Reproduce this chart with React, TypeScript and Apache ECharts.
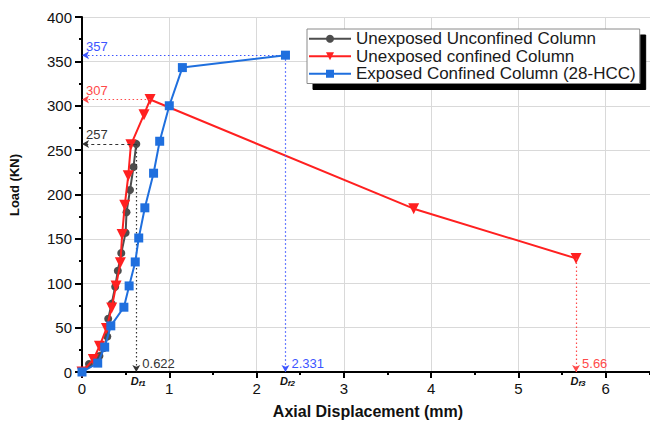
import React, { useEffect, useRef } from 'react';
import * as echarts from 'echarts';

// Load–displacement curves: [axial displacement (mm), load (kN)]
const unexposedUnconfined: [number, number][] = [
  [0, 0], [0.08, 9], [0.2, 18], [0.25, 27], [0.29, 40], [0.3, 60], [0.34, 77],
  [0.38, 96], [0.41, 114], [0.45, 134], [0.5, 157], [0.51, 180], [0.55, 205],
  [0.59, 231], [0.622, 257],
];
const unexposedConfined: [number, number][] = [
  [0, 0], [0.13, 14], [0.2, 29], [0.28, 49], [0.34, 72], [0.39, 97], [0.44, 123],
  [0.46, 155], [0.49, 188], [0.53, 221], [0.56, 256], [0.71, 290], [0.78, 307],
  [3.8, 184], [5.66, 128],
];
const exposedConfined: [number, number][] = [
  [0, 0], [0.18, 10], [0.26, 28], [0.33, 52], [0.48, 73], [0.54, 97], [0.61, 124],
  [0.65, 151], [0.72, 185], [0.82, 224], [0.89, 260], [1.0, 300], [1.15, 343],
  [2.331, 357],
];

const seriesNames = [
  'Unexposed Unconfined Column',
  'Unexposed confined Column',
  'Exposed Confined Column (28-HCC)',
];

const FONT = '"Liberation Sans", Arial, Helvetica, sans-serif';

// The plot runs on past the right edge of the visible frame
const FRAME_W = 650;
const CANVAS_W = 696;
const CANVAS_H = 424;
const LAST_X_LABEL = 6;

export default function App() {
  const ref = useRef<HTMLDivElement>(null);

  useEffect(() => {
    document.body.style.margin = '0';
    const chart = echarts.init(ref.current!, null, { renderer: 'svg' });

    const defs = [
      { data: unexposedUnconfined, color: '#4d4d4d', note: '#333333', symbol: 'circle', size: 8, rotate: 0, hType: [3, 3] },
      { data: unexposedConfined, color: '#ff2020', note: '#ff4a4a', symbol: 'triangle', size: 11, rotate: 180, hType: [1.5, 2.5] },
      { data: exposedConfined, color: '#1f6fde', note: '#3d55ff', symbol: 'rect', size: 9, rotate: 0, hType: [1.5, 2.5] },
    ];

    const peaks = defs.map((d) => d.data.reduce((a, b) => (b[1] > a[1] ? b : a)));
    const ends = defs.map((d) => d.data[d.data.length - 1]);
    // failure displacements are numbered Df1, Df2, Df3 from left to right
    const order = ends.map((e) => e[0]).slice().sort((a, b) => a - b);
    const tags = ends.map((e) => 'f' + (order.indexOf(e[0]) + 1));

    const series = defs.map((d, i) => ({
      type: 'line',
      name: seriesNames[i],
      data: d.data,
      symbol: d.symbol,
      symbolSize: d.size,
      symbolRotate: d.rotate,
      lineStyle: { color: d.color, width: 2 },
      itemStyle: { color: d.color },
      z: 3 + i,
      markLine: {
        silent: true,
        animation: false,
        symbol: ['none', 'arrow'],
        symbolSize: [6, 7],
        label: { show: false },
        emphasis: { disabled: true },
        data: [
          [
            { coord: peaks[i], lineStyle: { type: d.hType, color: d.note, width: 1.2 } },
            { coord: [0, peaks[i][1]] },
          ],
          [
            { coord: ends[i], lineStyle: { type: [1.5, 2.5], color: d.note, width: 1.2 } },
            { coord: [ends[i][0], 0] },
          ],
        ],
      },
    }));

    chart.setOption({
      animation: false,
      backgroundColor: '#ffffff',
      textStyle: { fontFamily: FONT },
      grid: { left: 82, top: 17, right: 0, bottom: 52, containLabel: false },
      legend: {
        orient: 'vertical',
        left: 307,
        top: 29,
        padding: [1, 4, 1, 1],
        itemGap: 0,
        itemWidth: 42,
        itemHeight: 10,
        backgroundColor: '#ffffff',
        borderColor: '#8a8a8a',
        borderWidth: 1,
        shadowColor: '#000000',
        shadowBlur: 0,
        shadowOffsetX: 6,
        shadowOffsetY: 6,
        textStyle: { fontSize: 17, color: '#1a1a1a', fontFamily: FONT, lineHeight: 17.5 },
        data: seriesNames,
      },
      xAxis: [
        {
          type: 'value',
          min: 0,
          max: 7,
          interval: 1,
          position: 'bottom',
          axisLine: { show: true, onZero: false, lineStyle: { color: '#000', width: 2 } },
          axisTick: { show: true, length: 6, lineStyle: { color: '#000', width: 2 } },
          minorTick: { show: true, splitNumber: 2, length: 3, lineStyle: { color: '#000', width: 2 } },
          splitLine: { show: true, lineStyle: { color: '#d9d9d9', width: 1 } },
          axisLabel: {
            fontSize: 15,
            color: '#111',
            margin: 9,
            fontFamily: FONT,
            formatter: (v: number) =>
              Number.isInteger(v) && v <= LAST_X_LABEL ? String(v) : '',
          },
        },
        {
          type: 'value',
          min: 0,
          max: 7,
          position: 'top',
          axisLine: { show: true, lineStyle: { color: '#000', width: 2 } },
          axisTick: { show: false },
          axisLabel: { show: false },
          splitLine: { show: false },
        },
      ],
      yAxis: {
        type: 'value',
        min: 0,
        max: 400,
        interval: 50,
        axisLine: { show: true, onZero: false, lineStyle: { color: '#000', width: 2 } },
        axisTick: { show: true, length: 7, lineStyle: { color: '#000', width: 2 } },
        minorTick: { show: true, splitNumber: 2, length: 3, lineStyle: { color: '#000', width: 2 } },
        splitLine: { show: true, lineStyle: { color: '#d9d9d9', width: 1 } },
        axisLabel: { fontSize: 15, color: '#111', margin: 10, fontFamily: FONT },
      },
      series,
    });

    const toPx = (p: [number, number]) =>
      chart.convertToPixel({ gridIndex: 0 }, p) as number[];
    const origin = toPx([0, 0]);

    const graphic: any[] = [
      {
        type: 'text',
        x: 368,
        y: 411,
        style: {
          text: 'Axial Displacement (mm)',
          font: `bold 16px ${FONT}`,
          fill: '#111',
          align: 'center',
          verticalAlign: 'middle',
        },
      },
      {
        type: 'text',
        x: 14,
        y: 185,
        rotation: Math.PI / 2,
        style: {
          text: 'Load (KN)',
          font: `bold 13px ${FONT}`,
          fill: '#111',
          align: 'center',
          verticalAlign: 'middle',
        },
      },
    ];

    defs.forEach((d, i) => {
      const pk = toPx(peaks[i]);
      const en = toPx(ends[i]);
      graphic.push({
        type: 'text',
        x: origin[0] + 4,
        y: pk[1] - 9,
        style: {
          text: String(peaks[i][1]),
          font: `13px ${FONT}`,
          fill: d.note,
          align: 'left',
          verticalAlign: 'middle',
        },
      });
      graphic.push({
        type: 'text',
        x: en[0] + 6,
        y: origin[1] - 9,
        style: {
          text: String(ends[i][0]),
          font: `13px ${FONT}`,
          fill: d.note,
          align: 'left',
          verticalAlign: 'middle',
        },
      });
      graphic.push({
        type: 'text',
        x: en[0] + 2,
        y: origin[1] + 9,
        style: {
          text: `{d|D}{s|${tags[i]}}`,
          align: 'center',
          verticalAlign: 'middle',
          rich: {
            d: { fontSize: 11, fontWeight: 'bold', fontStyle: 'italic', fill: '#111', fontFamily: FONT },
            s: { fontSize: 8, fontWeight: 'bold', fontStyle: 'italic', fill: '#111', fontFamily: FONT, padding: [4, 0, 0, 0] },
          },
        },
      });
    });

    chart.setOption({ graphic });

    return () => chart.dispose();
  }, []);

  return (
    <div
      style={{
        position: 'absolute',
        left: 0,
        top: 0,
        width: FRAME_W,
        height: CANVAS_H,
        overflow: 'hidden',
        background: '#fff',
      }}
    >
      <div ref={ref} style={{ width: CANVAS_W, height: CANVAS_H }} />
    </div>
  );
}
